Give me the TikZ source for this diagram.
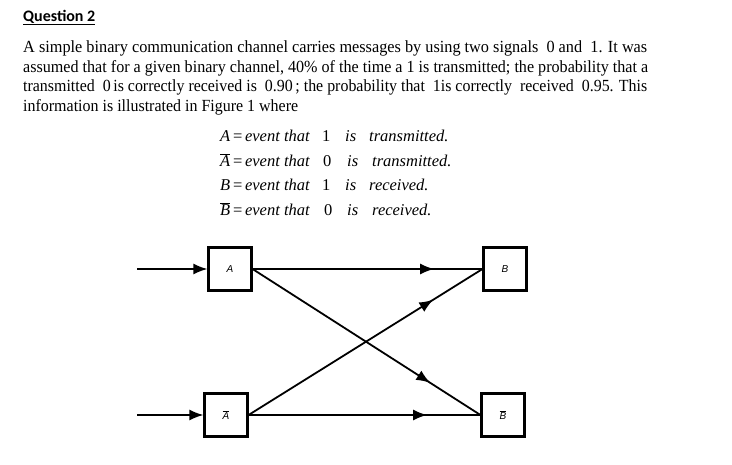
\documentclass[tikz,border=0pt]{standalone}
\usepackage{fontspec}
\usepackage{graphicx}
\setmainfont{Liberation Serif}
\newfontfamily\titlefont{Carlito}
\newfontfamily\labelfont{Liberation Sans}
\usetikzlibrary{arrows.meta,decorations.markings}
\newcommand{\ovlA}[1]{$\overline{\hbox{\itshape #1}}$}
\newcommand{\fitline}[2]{\resizebox{#1}{\height}{#2}}
\begin{document}
\begin{tikzpicture}[x=1pt,y=-1pt,
  txt/.style={anchor=base west,inner sep=0pt,font=\fontsize{17}{20}\selectfont},
  eq/.style={anchor=base west,inner sep=0pt,font=\fontsize{16.5}{18}\selectfont\itshape},
  eqn/.style={anchor=base west,inner sep=0pt,font=\fontsize{16.5}{18}\selectfont},
  box/.style={draw,line width=2.1pt,minimum size=43pt,inner sep=0pt,font=\labelfont\itshape\fontsize{10}{10}\selectfont},
  conn/.style={line width=1.8pt},
  midarrow/.style={postaction={decorate},decoration={markings,mark=at position #1 with {\arrow{Latex[length=14pt,width=11pt]}}}},
  inarrow/.style={line width=1.8pt,-{Latex[length=14pt,width=11pt]}}]
\useasboundingbox (0,0) rectangle (732,464);
\fill[white] (0,0) rectangle (732,464);
% title
\node[anchor=base west,inner sep=0pt,font=\titlefont\bfseries\fontsize{16}{18}\selectfont] (title) at (23,21) {\underline{Question 2}};
% paragraph
\node[txt] (l1) at (23,52) {\fitline{624pt}{A simple binary communication channel carries messages by using two signals \ 0 and \ 1. It was}};
\node[txt] (l2) at (23,72) {\fitline{625pt}{assumed that for a given binary channel, 40\% of the time a 1 is transmitted; the probability that a}};
\node[txt] (l3) at (23,91) {\fitline{624pt}{transmitted \ 0\,is correctly received is \ 0.90\,; the probability that \ 1is correctly \ received \ 0.95. This}};
\node[txt] (l4) at (23,111) {\fitline{275pt}{information is illustrated in Figure 1 where}};
% definitions
\node[eq] (e1a) at (220,141) {A\,{\upshape=}\,event that};
\node[eqn] (e1b) at (322,141) {1};
\node[eq] (e1c) at (345,141) {is};
\node[eq] (e1d) at (369,141) {transmitted.};
\node[eq] (e2a) at (220,166) {\ovlA{A}\,{\upshape=}\,event that};
\node[eqn] (e2b) at (323,166) {0};
\node[eq] (e2c) at (347,166) {is};
\node[eq] (e2d) at (372,166) {transmitted.};
\node[eq] (e3a) at (220,190) {B\,{\upshape=}\,event that};
\node[eqn] (e3b) at (322,190) {1};
\node[eq] (e3c) at (345,190) {is};
\node[eq] (e3d) at (369,190) {received.};
\node[eq] (e4a) at (220,215) {\ovlA{B}\,{\upshape=}\,event that};
\node[eqn] (e4b) at (324,215) {0};
\node[eq] (e4c) at (347,215) {is};
\node[eq] (e4d) at (372,215) {received.};
% boxes
\node[box] (A) at (230,269) {A};
\node[box] (B) at (505,269) {B};
\node[box] (Ab) at (226,415) {\ovlA{A}};
\node[box] (Bb) at (503,415) {\ovlA{B}};
\coordinate (inA) at (137,269);
\coordinate (inAb) at (137,415);
\draw[inarrow] (inA) -- (A.west);
\draw[inarrow] (inAb) -- (Ab.west);
\draw[conn,midarrow=0.79] (A.east) -- (B.west);
\draw[conn,midarrow=0.78] (A.east) -- (Bb.west);
\draw[conn,midarrow=0.79] (Ab.east) -- (B.west);
\draw[conn,midarrow=0.77] (Ab.east) -- (Bb.west);
\end{tikzpicture}
\end{document}
